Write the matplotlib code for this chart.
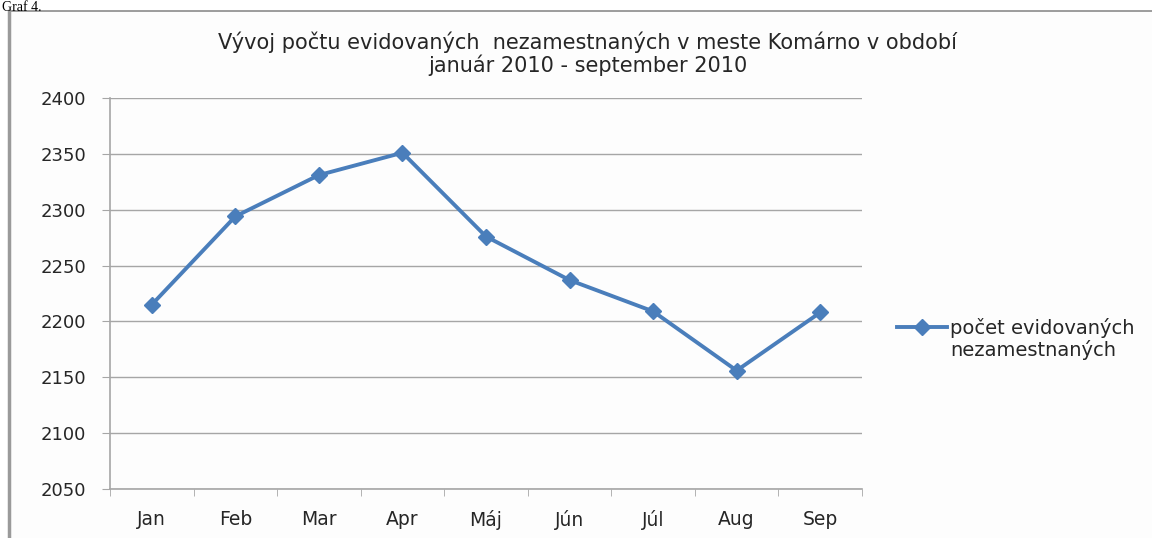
import matplotlib
matplotlib.use("Agg")
import matplotlib.pyplot as plt
from matplotlib.patches import Rectangle
from matplotlib.lines import Line2D

months = ["Jan", "Feb", "Mar", "Apr", "Máj", "Jún", "Júl", "Aug", "Sep"]
unemployed = [2215, 2294, 2331, 2351, 2276, 2237, 2209, 2156, 2208]
yticks = [2050, 2100, 2150, 2200, 2250, 2300, 2350, 2400]

title = "Vývoj počtu evidovaných  nezamestnaných v meste Komárno v období\njanuár 2010 - september 2010"
series_label = "počet evidovaných"
series_label2 = "nezamestnaných"

W, H = 1152, 538
blue = "#4a7ebb"
grid_c = "#a6a6a6"
txt_c = "#262626"

plt.rcParams["font.family"] = ["DejaVu Sans"]

fig = plt.figure(figsize=(W / 100, H / 100), dpi=100)
fig.patch.set_facecolor("white")

# outer chart frame + caption at the top
fig.add_artist(Rectangle((10 / W, -0.1), 1.2, (H - 11) / H + 0.1, transform=fig.transFigure,
                         facecolor="#fdfdfd", edgecolor="#8c8c8c", lw=1.2, zorder=-5))
fig.add_artist(Line2D([9 / W, 9 / W], [0, (H - 11) / H], color="#9a9a9a", lw=2.5,
                      transform=fig.transFigure, zorder=-4))
fig.text(0.002, 0.999, "Graf 4.", family="Liberation Serif", fontsize=10, va="top", ha="left")

ax = fig.add_axes([110 / W, 1 - 489 / H, (862 - 110) / W, (489 - 98) / H])
ax.set_facecolor("none")

x = list(range(len(months)))
ax.plot(x, unemployed, color=blue, lw=2.8, marker="D", markersize=8, zorder=3)

ax.set_xlim(-0.5, len(months) - 0.5)
ax.set_ylim(yticks[0], yticks[-1])
ax.set_yticks(yticks)
ax.set_xticks(x)
ax.set_xticklabels(months)
ax.set_xticks([i - 0.5 for i in range(len(months) + 1)], minor=True)
ax.tick_params(axis="x", which="major", length=0, pad=15, labelsize=13.5, labelcolor=txt_c)
ax.tick_params(axis="x", which="minor", length=5, color=grid_c, direction="out")
ax.tick_params(axis="y", length=6, color=grid_c, pad=11, labelsize=13, labelcolor=txt_c)
ax.grid(axis="y", color=grid_c, lw=1)
for s in ["top", "right"]:
    ax.spines[s].set_visible(False)
for s in ["left", "bottom"]:
    ax.spines[s].set_color(grid_c)
    ax.spines[s].set_linewidth(1.2)

fig.text(588 / W, 1 - 54 / H, title, ha="center", va="center", fontsize=15, color=txt_c,
         linespacing=1.1)

fig.legend([Line2D([], [], color=blue, lw=2.8, marker="D", markersize=8)], [series_label],
           loc="center left", bbox_to_anchor=(897 / W, 1 - 328 / H), frameon=False,
           handlelength=2.55, handletextpad=0.2, borderpad=0, borderaxespad=0,
           fontsize=14, labelcolor=txt_c)
fig.text(950 / W, 1 - 350 / H, series_label2, ha="left", va="center", fontsize=14, color=txt_c)

fig.savefig("out.png", dpi=100)
